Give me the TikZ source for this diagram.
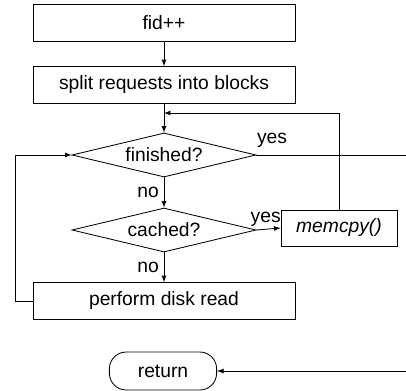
\documentclass[tikz,border=0pt]{standalone}
\usepackage{fontspec}
\setmainfont{Liberation Sans}
\usetikzlibrary{arrows}
\usetikzlibrary{shapes.geometric}

\begin{document}
\begin{tikzpicture}[x=0.025cm,y=-0.025cm,line width=0.6pt,
  every node/.style={font=\fontsize{13.7}{16}\selectfont},
  stepbox/.style={draw,rectangle,minimum width=6.55cm,minimum height=0.92cm,inner sep=0pt},
  testbox/.style={draw,diamond,aspect=4,minimum width=4.6cm,minimum height=1.1cm,inner sep=0pt},
  copybox/.style={draw,rectangle,minimum width=2.9cm,minimum height=0.9cm,inner sep=0pt},
  endbox/.style={draw,rectangle,rounded corners=0.42cm,minimum width=2.68cm,minimum height=0.95cm,inner sep=0pt}]
  \useasboundingbox (0,0) rectangle (406,390);
  % boxes
  \node[stepbox] (fid) at (164,23) {fid++};
  \node[stepbox] (split) at (164,85) {split requests into blocks};
  \node[testbox] (finished) at (164,155) {finished?};
  \node[testbox] (cached) at (164,230) {cached?};
  \node[copybox] (memcpy) at (339,228) {\itshape memcpy()};
  \node[stepbox] (diskread) at (164,301) {perform disk read};
  \node[endbox] (return) at (163,371) {return};
  \coordinate (merge) at (164,113);
  \coordinate (exit) at (414,155);
  % flow
  \path[-latex]
    (fid) edge (split)
    (split) edge (finished)
    (finished) edge node [left] {no} (cached)
    (cached) edge node [left] {no} (diskread);
  \draw[-latex] (cached.east) -- node [above,xshift=-2pt,yshift=-2pt] {yes} (memcpy.west);
  \draw[-latex] (memcpy.north) |- (merge);
  \draw[-latex] (diskread.west) -- ++(-17,0) |- (finished.west);
  \draw[-latex] (finished.east) -- (exit) |- (return.east);
  \node at (272,140) {yes};
\end{tikzpicture}
\end{document}
